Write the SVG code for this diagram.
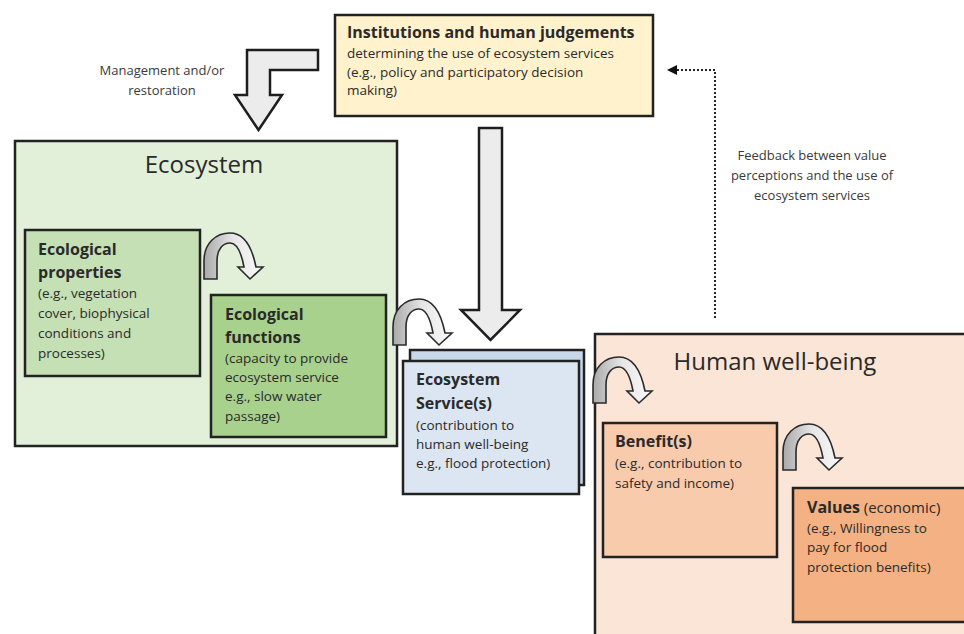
<svg xmlns="http://www.w3.org/2000/svg" width="964" height="634" viewBox="0 0 964 634">
<defs>
<linearGradient id="curveFill" x1="0" y1="0" x2="1" y2="0">
<stop offset="0" stop-color="#a9a9a9"/>
<stop offset="0.5" stop-color="#e6e6e6"/>
<stop offset="1" stop-color="#fafafa"/>
</linearGradient>
<path id="curve" d="M0,0 L0,-18 C0,-36 12,-46 26,-46 C40,-46 48,-32 52,-12 L59,-12 L46,0 L34,-12 L40,-12 C37,-28 32,-36 26,-36 C19,-36 13,-30 13,-18 L13,0 Z"/>
<marker id="ahead" markerWidth="10" markerHeight="10" refX="8" refY="5" orient="auto" markerUnits="userSpaceOnUse">
<path d="M0,0 L10,5 L0,10 Z" fill="#111"/>
</marker>
</defs>
<style>
text{font-family:"Open Sans",Lato,"Liberation Sans",sans-serif;fill:#2a2a2a}
.box{stroke:#222;stroke-width:2.5}
.t{font-size:13.5px}
.b{font-size:16px;font-weight:bold}
.s{font-size:13px;fill:#3a3a3a}
.title{font-size:24px}
.curve{fill:url(#curveFill);stroke:#2a2a2a;stroke-width:1.6}
.bigarrow{fill:#ececec;stroke:#1e1e1e;stroke-width:2.5;stroke-linejoin:miter}
</style>
<rect width="964" height="634" fill="#ffffff"/>

<g id="ecosystem">
<rect class="box" x="15" y="141" width="382" height="305" fill="#e2efd9"/>
<text class="title" x="204" y="173" text-anchor="middle">Ecosystem</text>
</g>

<g id="human-well-being">
<rect class="box" x="595" y="334" width="380" height="310" fill="#fbe5d6"/>
<text class="title" x="775" y="370" text-anchor="middle">Human well-being</text>
</g>

<g id="institutions">
<rect class="box" x="335" y="15" width="318" height="101" fill="#fff2cc"/>
<text class="b" x="347" y="38">Institutions and human judgements</text>
<text class="t" x="347" y="58">determining the use of ecosystem services</text>
<text class="t" x="347" y="77">(e.g., policy and participatory decision</text>
<text class="t" x="347" y="95">making)</text>
</g>

<g id="ecological-properties">
<rect class="box" x="25" y="230" width="175" height="146" fill="#c5e0b4"/>
<text class="b" x="38" y="255">Ecological</text>
<text class="b" x="38" y="278">properties</text>
<text class="t" x="38" y="298">(e.g., vegetation</text>
<text class="t" x="38" y="318">cover, biophysical</text>
<text class="t" x="38" y="338">conditions and</text>
<text class="t" x="38" y="358">processes)</text>
</g>

<g id="ecological-functions">
<rect class="box" x="211" y="295" width="175" height="142" fill="#a9d18e"/>
<text class="b" x="225" y="320">Ecological</text>
<text class="b" x="225" y="343">functions</text>
<text class="t" x="225" y="363">(capacity to provide</text>
<text class="t" x="225" y="382">ecosystem service</text>
<text class="t" x="225" y="401">e.g., slow water</text>
<text class="t" x="225" y="421">passage)</text>
</g>

<g id="ecosystem-services">
<rect class="box" x="410" y="350" width="174" height="135" fill="#c9d7ea"/>
<rect class="box" x="403" y="361" width="176" height="133" fill="#dce6f2"/>
<text class="b" x="416" y="385">Ecosystem</text>
<text class="b" x="416" y="409">Service(s)</text>
<text class="t" x="416" y="430">(contribution to</text>
<text class="t" x="416" y="449">human well-being</text>
<text class="t" x="416" y="468">e.g., flood protection)</text>
</g>

<g id="benefits">
<rect class="box" x="603" y="423" width="174" height="134" fill="#f8cbad"/>
<text class="b" x="615" y="447">Benefit(s)</text>
<text class="t" x="615" y="468">(e.g., contribution to</text>
<text class="t" x="615" y="488">safety and income)</text>
</g>

<g id="values">
<rect class="box" x="793" y="488" width="180" height="134" fill="#f4b183"/>
<text x="807" y="513"><tspan class="b">Values</tspan><tspan font-size="15px"> (economic)</tspan></text>
<text class="t" x="807" y="533">(e.g., Willingness to</text>
<text class="t" x="807" y="552">pay for flood</text>
<text class="t" x="807" y="572">protection benefits)</text>
</g>

<g id="connectors">
<polygon class="bigarrow" points="318,50 318,70 270,70 270,95 282,95 258.5,130 235,95 247,95 247,50"/>
<polygon class="bigarrow" points="479,128 502,128 502,310 520,310 490.5,340 461,310 479,310"/>
<use href="#curve" class="curve" transform="translate(204,279)"/>
<use href="#curve" class="curve" transform="translate(393,345)"/>
<use href="#curve" class="curve" transform="translate(593,403)"/>
<use href="#curve" class="curve" transform="translate(783,470)"/>
<path d="M715,318 L715,70 L669,70" fill="none" stroke="#222" stroke-width="2" stroke-dasharray="2,2" marker-end="url(#ahead)"/>
</g>

<g id="labels">
<text class="s" x="162" y="75" text-anchor="middle">Management and/or</text>
<text class="s" x="162" y="95" text-anchor="middle">restoration</text>
<text class="s" x="812" y="160" text-anchor="middle">Feedback between value</text>
<text class="s" x="812" y="180" text-anchor="middle">perceptions and the use of</text>
<text class="s" x="812" y="200" text-anchor="middle">ecosystem services</text>
</g>
</svg>
